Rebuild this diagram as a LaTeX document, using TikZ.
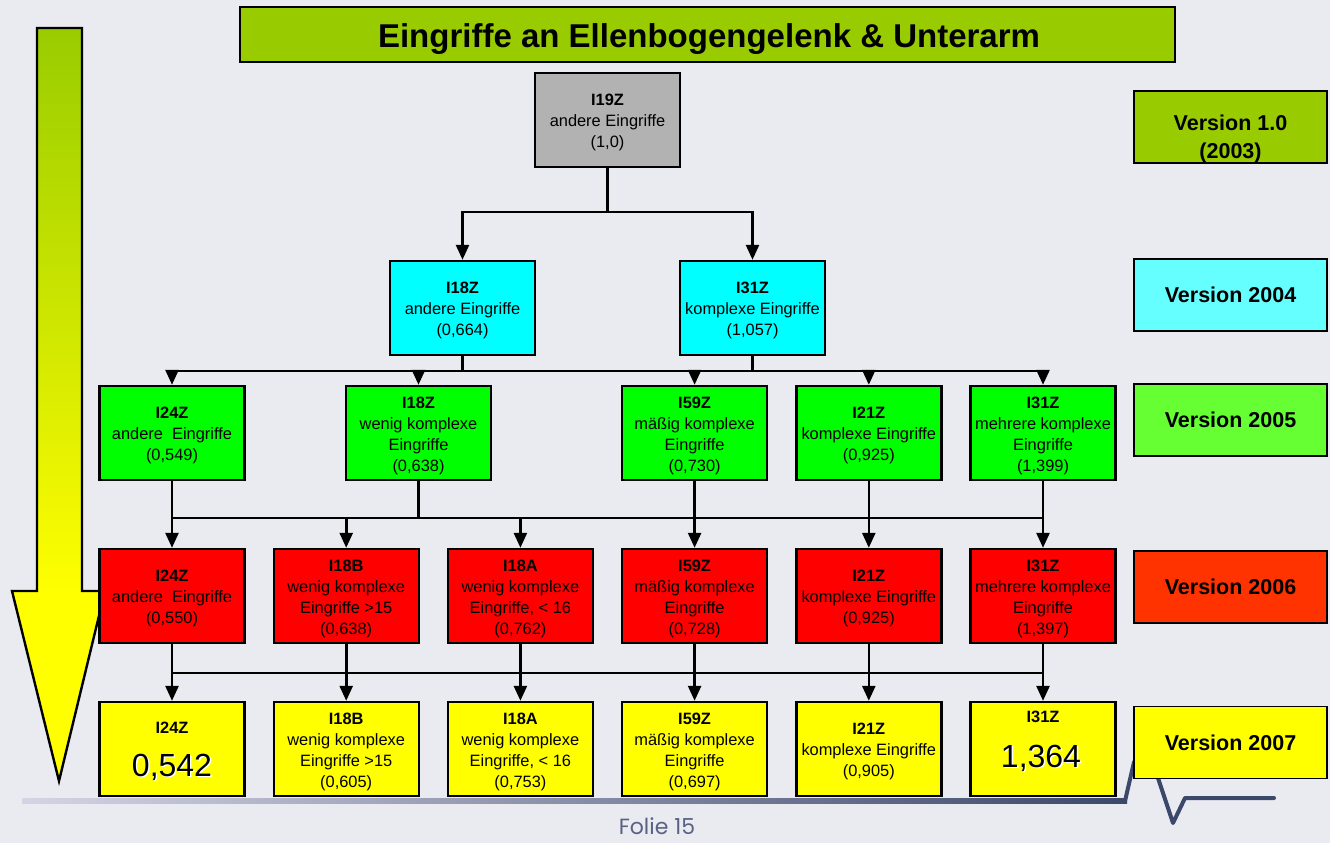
\documentclass[tikz,border=0pt]{standalone}
\usepackage{fontspec}
\setmainfont{Liberation Sans}
\newfontfamily\foliefont{Poppins}
\usetikzlibrary{arrows.meta}
\definecolor{bg}{RGB}{234,234,241}
\definecolor{olive}{RGB}{153,204,0}
\definecolor{grayb}{RGB}{178,178,178}
\definecolor{cyanb}{RGB}{0,255,255}
\definecolor{cyanl}{RGB}{102,255,255}
\definecolor{greenb}{RGB}{0,255,0}
\definecolor{greenl}{RGB}{102,255,51}
\definecolor{redb}{RGB}{255,0,0}
\definecolor{redl}{RGB}{255,51,0}
\definecolor{yellowb}{RGB}{255,255,0}
\definecolor{decoL}{RGB}{212,212,228}
\definecolor{decoR}{RGB}{60,72,106}
\definecolor{folie}{RGB}{88,98,130}
\newcommand\nm[1]{\rule{0pt}{17pt}\textbf{#1}}
\begin{document}
\begin{tikzpicture}[x=1pt,y=-1pt,
  box/.style={draw=black, line width=2.4pt, minimum width=145pt, minimum height=94pt, inner sep=0pt, align=center, font=\fontsize{16.4}{21}\selectfont},
  vbox/.style={draw=black, line width=1.5pt, minimum width=193pt, minimum height=72pt, inner sep=0pt, align=center, font=\fontsize{21.5}{26}\selectfont\bfseries},
  conn/.style={line width=2.6pt, black, line cap=rect},
  conarr/.style={line width=2.6pt, black, -{Triangle[length=15pt,width=13pt]}},
  bignum/.style={inner sep=0pt, font=\fontsize{32}{32}\selectfont},
  deco/.style={line width=4pt, decoR, line cap=round, line join=round},
]
\fill[bg] (0,0) rectangle (1330,843);
\useasboundingbox (0,0) rectangle (1330,843);

% big gradient arrow
\shade[top color=olive, bottom color=yellowb] (37,28) rectangle (82,592);
\fill[yellowb] (12,591) -- (105,591) -- (59,781) -- cycle;
\draw[line width=2.4pt, line join=miter] (37,28) -- (82,28) -- (82,591) -- (105,591) -- (59,781) -- (12,591) -- (37,591) -- cycle;

% bottom decoration
\shade[left color=decoL, right color=decoR] (22,798.5) rectangle (1127,803);
\draw[deco] (1125,801) -- (1134,762);
\draw[deco] (1156,772) -- (1173,823) -- (1185,798) -- (1274,798);
\node[text=folie, font=\foliefont\fontsize{22}{24}\selectfont] (folie) at (657,826) {Folie 15};

% title
\node[draw=black, line width=2.4pt, fill=olive, minimum width=935pt, minimum height=55pt, inner sep=0pt] (title) at (707.5,34.5) {};
\node[font=\fontsize{33}{36}\selectfont\bfseries, inner sep=0pt] (titletext) at (709,39) {Eingriffe an Ellenbogengelenk \& Unterarm};

% version labels
\node[vbox, fill=olive] (v10) at (1230.5,127) {};
\node[align=center, inner sep=0pt, font=\fontsize{21.5}{28}\selectfont\bfseries] (v10t) at (1230.5,139) {Version 1.0\\(2003)};
\node[vbox, fill=cyanl] (v04) at (1230.5,295) {Version 2004};
\node[vbox, fill=greenl] (v05) at (1230.5,420) {Version 2005};
\node[vbox, fill=redl] (v06) at (1230.5,587) {Version 2006};
\node[vbox, fill=yellowb] (v07) at (1230.5,742.5) {Version 2007};

% version 1.0
\node[box, fill=grayb] (i19) at (607.5,120) {\nm{I19Z}\\andere Eingriffe\\(1,0)};

% version 2004
\node[box, fill=cyanb] (c1) at (462.5,308) {\nm{I18Z}\\andere Eingriffe\\(0,664)};
\node[box, fill=cyanb] (c2) at (752.5,308) {\nm{I31Z}\\komplexe Eingriffe\\(1,057)};

% version 2005
\node[box, fill=greenb] (g1) at (172,433) {\nm{I24Z}\\andere\ \ Eingriffe\\(0,549)};
\node[box, fill=greenb] (g2) at (418.5,433) {\nm{I18Z}\\wenig komplexe\\Eingriffe\\(0,638)};
\node[box, fill=greenb] (g3) at (694.6,433) {\nm{I59Z}\\mäßig komplexe\\Eingriffe\\(0,730)};
\node[box, fill=greenb] (g4) at (868.8,433) {\nm{I21Z}\\komplexe Eingriffe\\(0,925)};
\node[box, fill=greenb] (g5) at (1043,433) {\nm{I31Z}\\mehrere komplexe\\Eingriffe\\(1,399)};

% version 2006
\node[box, fill=redb] (r1) at (172,596) {\nm{I24Z}\\andere\ \ Eingriffe\\(0,550)};
\node[box, fill=redb] (r2) at (346.2,596) {\nm{I18B}\\wenig komplexe\\Eingriffe >15\\(0,638)};
\node[box, fill=redb] (r3) at (520.4,596) {\nm{I18A}\\wenig komplexe\\Eingriffe, < 16\\(0,762)};
\node[box, fill=redb] (r4) at (694.6,596) {\nm{I59Z}\\mäßig komplexe\\Eingriffe\\(0,728)};
\node[box, fill=redb] (r5) at (868.8,596) {\nm{I21Z}\\komplexe Eingriffe\\(0,925)};
\node[box, fill=redb] (r6) at (1043,596) {\nm{I31Z}\\mehrere komplexe\\Eingriffe\\(1,397)};

% version 2007
\node[box, fill=yellowb] (y1) at (172,749) {};
\node[box, fill=yellowb] (y2) at (346.2,749) {\nm{I18B}\\wenig komplexe\\Eingriffe >15\\(0,605)};
\node[box, fill=yellowb] (y3) at (520.4,749) {\nm{I18A}\\wenig komplexe\\Eingriffe, < 16\\(0,753)};
\node[box, fill=yellowb] (y4) at (694.6,749) {\nm{I59Z}\\mäßig komplexe\\Eingriffe\\(0,697)};
\node[box, fill=yellowb] (y5) at (868.8,749) {\nm{I21Z}\\komplexe Eingriffe\\(0,905)};
\node[box, fill=yellowb] (y6) at (1043,749) {};

\node[font=\fontsize{16.4}{18}\selectfont\bfseries, inner sep=0pt] (y1a) at (172,728) {I24Z};
\node[bignum, text=white] (y1s) at (173.3,768.3) {0,542};
\node[bignum] (y1b) at (172,767) {0,542};
\node[font=\fontsize{16.4}{18}\selectfont\bfseries, inner sep=0pt] (y6a) at (1043,717) {I31Z};
\node[bignum, text=white] (y6s) at (1042.3,759.3) {1,364};
\node[bignum] (y6b) at (1041,758) {1,364};

% connectors 1.0 -> 2004
\coordinate (b1) at (0,212);
\draw[conn] (i19.south) -- (i19.south |- b1);
\draw[conarr] (i19.south |- b1) -| (c1.north);
\draw[conarr] (i19.south |- b1) -| (c2.north);

% 2004 -> 2005
\coordinate (b2) at (0,371);
\draw[conn] (c1.south) -- (c1.south |- b2);
\draw[conn] (c2.south) -- (c2.south |- b2);
\draw[conn] (g1.north |- b2) -- (g5.north |- b2);
\foreach \n in {g1,g2,g3,g4,g5} \draw[conarr] (\n.north |- b2) -- (\n.north);

% 2005 -> 2006
\coordinate (b3) at (0,518);
\foreach \n in {g1,g2,g3,g4,g5} \draw[conn] (\n.south) -- (\n.south |- b3);
\draw[conn] (r1.north |- b3) -- (r6.north |- b3);
\foreach \n in {r1,r2,r3,r4,r5,r6} \draw[conarr] (\n.north |- b3) -- (\n.north);

% 2006 -> 2007
\coordinate (b4) at (0,673);
\draw[conn] (r1.south |- b4) -- (r6.south |- b4);
\foreach \n/\m in {r1/y1,r2/y2,r3/y3,r4/y4,r5/y5,r6/y6} \draw[conarr] (\n.south) -- (\m.north);
\end{tikzpicture}
\end{document}
